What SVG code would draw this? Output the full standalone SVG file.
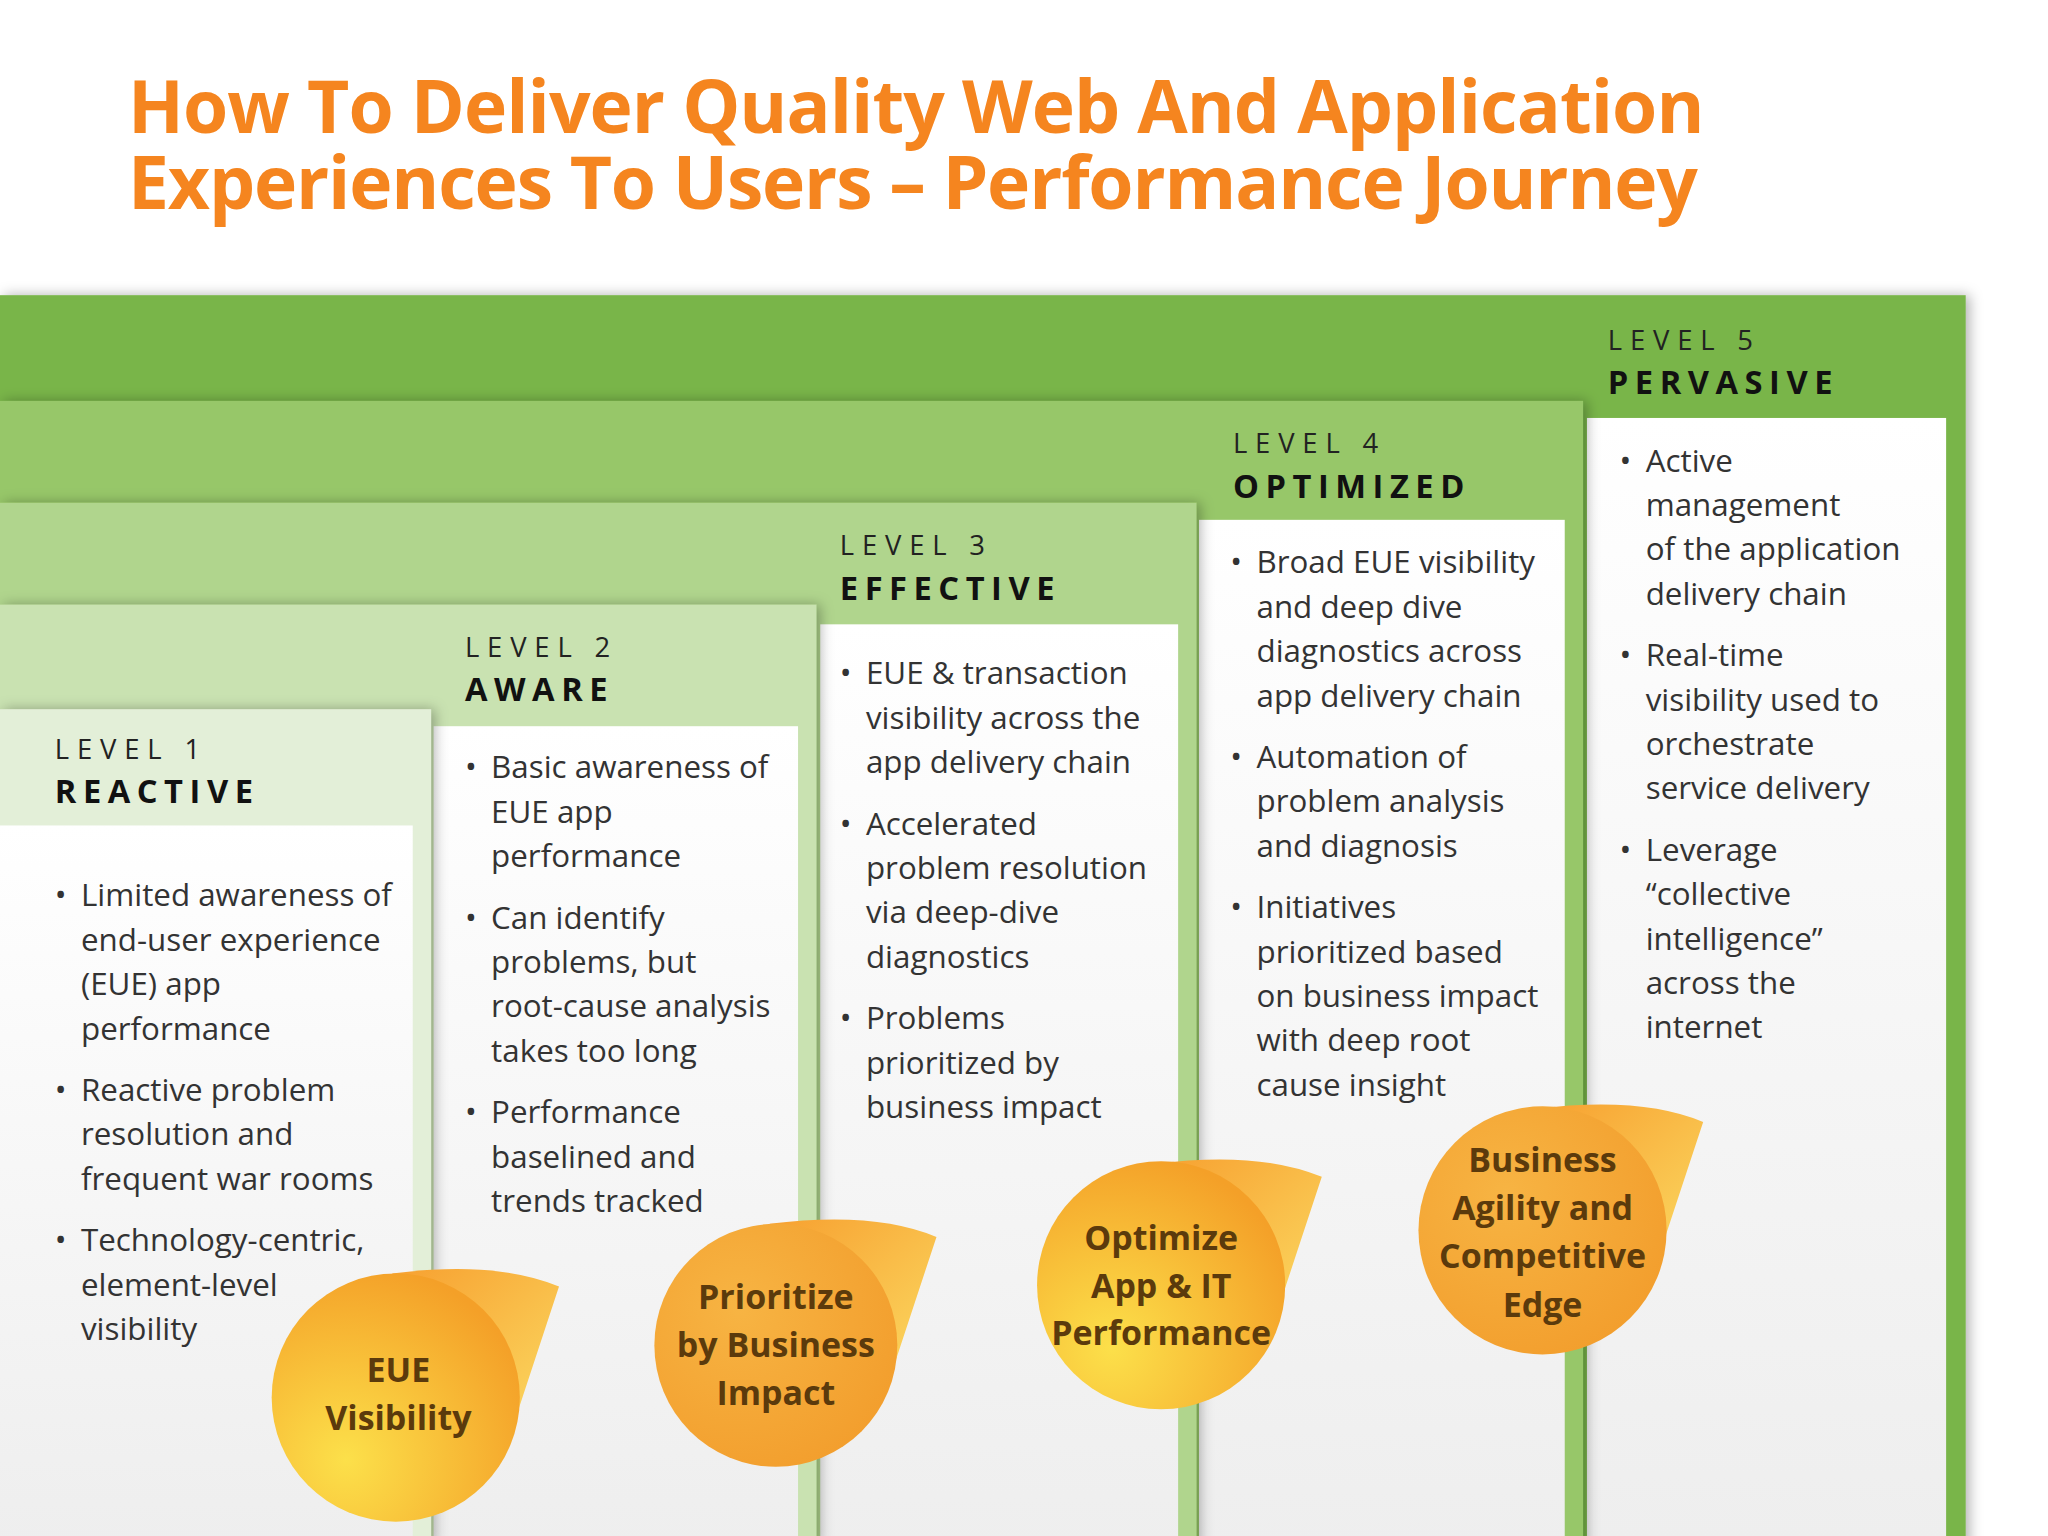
<svg xmlns="http://www.w3.org/2000/svg" width="2048" height="1536" viewBox="0 0 2048 1536">
<defs>
<style>
.t{font-family:"Open Sans","Liberation Sans",sans-serif;font-weight:700;fill:#F5851F;font-size:56px}
.lv{font-family:"Open Sans","Liberation Sans",sans-serif;font-size:21px;letter-spacing:6px;fill:#222}
.nm{font-family:"Open Sans","Liberation Sans",sans-serif;font-size:25px;font-weight:700;letter-spacing:5px;fill:#111}
.b{font-family:"Open Sans","Liberation Sans",sans-serif;font-size:24px;fill:#333}
.c{font-family:"Open Sans","Liberation Sans",sans-serif;font-size:26px;font-weight:700;fill:#5b3a0c;text-anchor:middle}
.sw{fill:url(#sg)}
</style>
<linearGradient id="pg" x1="0" y1="0" x2="0" y2="1"><stop offset="0" stop-color="#ffffff"/><stop offset="1" stop-color="#eeeeee"/></linearGradient>
<radialGradient id="cg" cx="0.3" cy="0.75" r="0.8"><stop offset="0" stop-color="#FCE04A"/><stop offset="1" stop-color="#F4A028"/></radialGradient>
<radialGradient id="cg2" cx="0.35" cy="0.35" r="0.8"><stop offset="0" stop-color="#F7B443"/><stop offset="1" stop-color="#F29C2B"/></radialGradient>
<linearGradient id="sg" x1="0" y1="0" x2="1" y2="1"><stop offset="0" stop-color="#F7A030"/><stop offset="1" stop-color="#FBD860"/></linearGradient>
<filter id="sh" x="-5%" y="-5%" width="110%" height="110%"><feDropShadow dx="3" dy="0" stdDeviation="5" flood-opacity="0.3"/></filter>
</defs>
<rect width="2048" height="1536" fill="#ffffff"/>
<g transform="scale(1.30612)">
<g id="title">
<text class="t" x="98" y="102" textLength="1207">How To Deliver Quality Web And Application</text>
<text class="t" x="98" y="160" textLength="1202">Experiences To Users – Performance Journey</text>
</g>
<g id="level5">
<rect x="0" y="226" width="1505" height="960" fill="#79B54A" filter="url(#sh)"/>
<rect x="1215" y="320" width="275" height="860" fill="url(#pg)"/>
<text class="lv" x="1231" y="268">LEVEL 5</text><text class="nm" x="1231" y="302">PERVASIVE</text>
<g class="b"><text x="1240" y="361">•</text>
<text x="1260" y="361">Active</text><text x="1260" y="395">management</text><text x="1260" y="429">of the application</text><text x="1260" y="463">delivery chain</text>
<text x="1240" y="510">•</text><text x="1260" y="510">Real-time</text><text x="1260" y="544">visibility used to</text><text x="1260" y="578">orchestrate</text><text x="1260" y="612">service delivery</text>
<text x="1240" y="659">•</text><text x="1260" y="659">Leverage</text><text x="1260" y="693">“collective</text><text x="1260" y="727">intelligence”</text><text x="1260" y="761">across the</text><text x="1260" y="795">internet</text></g>
</g>
<g id="level4">
<rect x="0" y="307" width="1212" height="880" fill="#97C769" filter="url(#sh)"/>
<rect x="918" y="398" width="280" height="790" fill="url(#pg)"/>
<text class="lv" x="944" y="347">LEVEL 4</text><text class="nm" x="944" y="381">OPTIMIZED</text>
<g class="b"><text x="942" y="439">•</text>
<text x="962" y="439">Broad EUE visibility</text><text x="962" y="473">and deep dive</text><text x="962" y="507">diagnostics across</text><text x="962" y="541">app delivery chain</text>
<text x="942" y="588">•</text><text x="962" y="588">Automation of</text><text x="962" y="622">problem analysis</text><text x="962" y="656">and diagnosis</text>
<text x="942" y="703">•</text><text x="962" y="703">Initiatives</text><text x="962" y="737">prioritized based</text><text x="962" y="771">on business impact</text><text x="962" y="805">with deep root</text><text x="962" y="839">cause insight</text></g>
</g>
<g id="level3">
<rect x="0" y="385" width="916" height="800" fill="#B0D58D" filter="url(#sh)"/>
<rect x="628" y="478" width="274" height="710" fill="url(#pg)"/>
<text class="lv" x="643" y="425">LEVEL 3</text><text class="nm" x="643" y="459">EFFECTIVE</text>
<g class="b"><text x="643" y="524">•</text>
<text x="663" y="524">EUE &amp; transaction</text><text x="663" y="558">visibility across the</text><text x="663" y="592">app delivery chain</text>
<text x="643" y="639">•</text><text x="663" y="639">Accelerated</text><text x="663" y="673">problem resolution</text><text x="663" y="707">via deep-dive</text><text x="663" y="741">diagnostics</text>
<text x="643" y="788">•</text><text x="663" y="788">Problems</text><text x="663" y="822">prioritized by</text><text x="663" y="856">business impact</text></g>
</g>
<g id="level2">
<rect x="0" y="463" width="625" height="720" fill="#C9E2B1" filter="url(#sh)"/>
<rect x="332" y="556" width="279" height="630" fill="url(#pg)"/>
<text class="lv" x="356" y="503">LEVEL 2</text><text class="nm" x="356" y="537">AWARE</text>
<g class="b"><text x="356" y="596">•</text>
<text x="376" y="596">Basic awareness of</text><text x="376" y="630">EUE app</text><text x="376" y="664">performance</text>
<text x="356" y="711">•</text><text x="376" y="711">Can identify</text><text x="376" y="745">problems, but</text><text x="376" y="779">root-cause analysis</text><text x="376" y="813">takes too long</text>
<text x="356" y="860">•</text><text x="376" y="860">Performance</text><text x="376" y="894">baselined and</text><text x="376" y="928">trends tracked</text></g>
</g>
<g id="level1">
<rect x="0" y="543" width="330" height="640" fill="#E3EFD8" filter="url(#sh)"/>
<rect x="0" y="632" width="316" height="550" fill="url(#pg)"/>
<text class="lv" x="42" y="581">LEVEL 1</text><text class="nm" x="42" y="615">REACTIVE</text>
<g class="b"><text x="42" y="694">•</text>
<text x="62" y="694">Limited awareness of</text><text x="62" y="728">end-user experience</text><text x="62" y="762">(EUE) app</text><text x="62" y="796">performance</text>
<text x="42" y="843">•</text><text x="62" y="843">Reactive problem</text><text x="62" y="877">resolution and</text><text x="62" y="911">frequent war rooms</text>
<text x="42" y="958">•</text><text x="62" y="958">Technology-centric,</text><text x="62" y="992">element-level</text><text x="62" y="1026">visibility</text></g>
</g>
<g id="badge1">
<path class="sw" d="M300 975 Q380 965 428 985 L395 1085 Q380 1010 300 975 Z"/>
<circle cx="303" cy="1070" r="95" fill="url(#cg)"/>
<text class="c" x="305" y="1058">EUE</text><text class="c" x="305" y="1095">Visibility</text>
</g>
<g id="badge2">
<path class="sw" d="M589 937 Q669 927 717 947 L684 1047 Q669 972 589 937 Z"/>
<circle cx="594" cy="1030" r="93" fill="url(#cg2)"/>
<text class="c" x="594" y="1002">Prioritize</text><text class="c" x="594" y="1039">by Business</text><text class="c" x="594" y="1076">Impact</text>
</g>
<g id="badge3">
<path class="sw" d="M884 891 Q964 881 1012 901 L979 1001 Q964 926 884 891 Z"/>
<circle cx="889" cy="984" r="95" fill="url(#cg)"/>
<text class="c" x="889" y="957">Optimize</text><text class="c" x="889" y="994">App &amp; IT</text><text class="c" x="889" y="1030">Performance</text>
</g>
<g id="badge4">
<path class="sw" d="M1176 849 Q1256 839 1304 859 L1271 959 Q1256 884 1176 849 Z"/>
<circle cx="1181" cy="942" r="95" fill="url(#cg2)"/>
<text class="c" x="1181" y="897">Business</text><text class="c" x="1181" y="934">Agility and</text><text class="c" x="1181" y="971">Competitive</text><text class="c" x="1181" y="1008">Edge</text>
</g>
<g id="connectors"/>
</g>
</svg>
